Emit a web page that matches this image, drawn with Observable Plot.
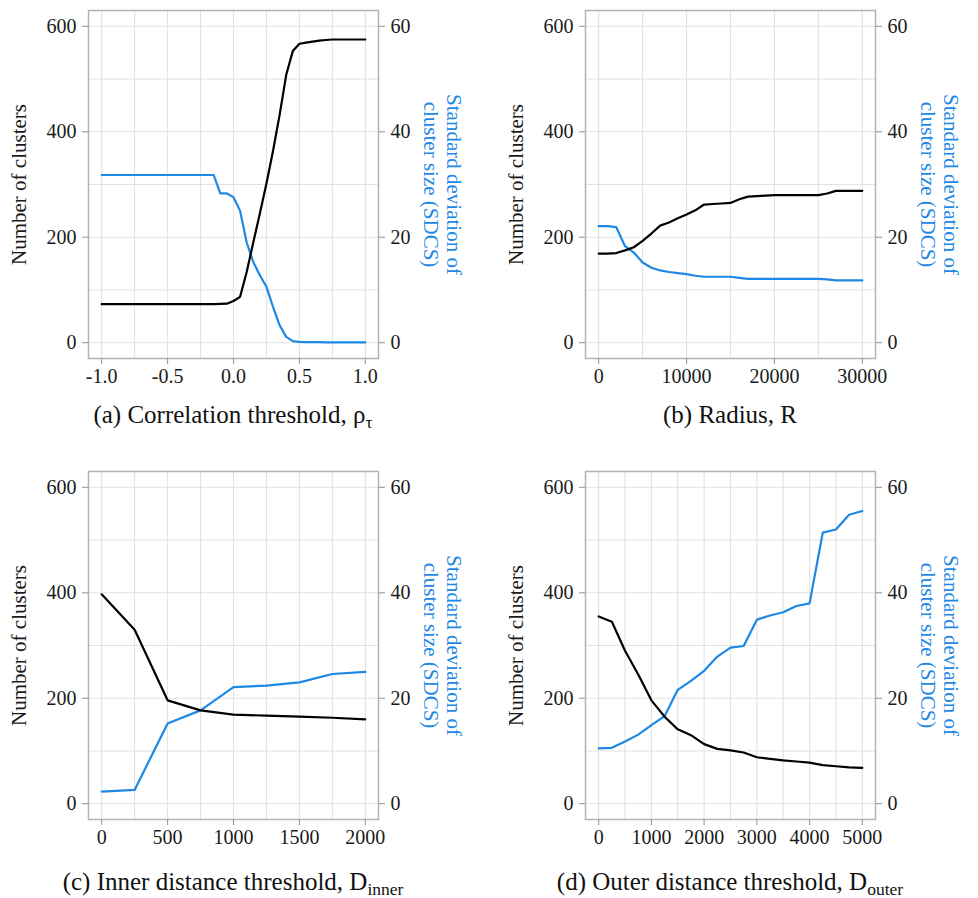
<!DOCTYPE html>
<html>
<head>
<meta charset="utf-8">
<script src="https://cdn.jsdelivr.net/npm/d3@7"></script>
<script src="https://cdn.jsdelivr.net/npm/@observablehq/plot@0.6"></script>
<style>
  html, body { margin: 0; padding: 0; background: #fff; overflow: hidden; }
  #fig { position: relative; width: 978px; height: 898px; font-family: "Liberation Serif", Tinos, Times, "DejaVu Serif", serif; }
  .panel { position: absolute; }
  .cap { position: absolute; width: 440px; text-align: center; white-space: nowrap;
         font-size: 25px; line-height: 26px; color: #111; }
  .cap sub { font-size: 0.7em; vertical-align: -0.3em; line-height: 0; }
</style>
</head>
<body>
<div id="fig"></div>
<script>
// (a) correlation threshold sweep
const rhoX = [-1.0, -0.95, -0.9, -0.85, -0.8, -0.75, -0.7, -0.65, -0.6, -0.55, -0.5, -0.45, -0.4, -0.35, -0.3, -0.25, -0.2, -0.15,
              -0.1, -0.05, 0.0, 0.05, 0.1, 0.15, 0.2, 0.25, 0.3, 0.35, 0.4, 0.45, 0.5, 0.55, 0.6, 0.65, 0.7, 0.75, 0.8, 0.85, 0.9, 0.95, 1.0];
const rhoCount = [73, 73, 73, 73, 73, 73, 73, 73, 73, 73, 73, 73, 73, 73, 73, 73, 73, 73,
                  73.5, 74, 79, 87, 134, 190, 245, 302, 364, 432, 508, 553, 567, 569, 571, 573, 574, 575, 575, 575, 575, 575, 575];
const rhoSdcs = [31.8, 31.8, 31.8, 31.8, 31.8, 31.8, 31.8, 31.8, 31.8, 31.8, 31.8, 31.8, 31.8, 31.8, 31.8, 31.8, 31.8, 31.8,
                 28.3, 28.3, 27.6, 25.0, 19.0, 15.3, 12.8, 10.6, 6.8, 3.3, 1.1, 0.3, 0.15, 0.1, 0.1, 0.1, 0.05, 0.05, 0.05, 0.05, 0.05, 0.05, 0.05];

// (b) radius sweep
const radiusX = [0, 1000, 2000, 3000, 4000, 5000, 6000, 7000, 8000, 9000, 10000, 11000, 12000, 13000, 14000, 15000,
                 16000, 17000, 18000, 19000, 20000, 21000, 22000, 23000, 24000, 25000, 26000, 27000, 28000, 29000, 30000];
const radiusCount = [169, 169, 170, 175, 181, 193, 207, 222, 228, 236, 243, 251, 262, 263, 264, 265,
                     272, 277, 278, 279, 280, 280, 280, 280, 280, 280, 283, 288, 288, 288, 288];
const radiusSdcs = [22.1, 22.1, 21.9, 18.3, 17.1, 15.2, 14.2, 13.7, 13.4, 13.2, 13.0, 12.7, 12.5, 12.5, 12.5, 12.5,
                    12.3, 12.1, 12.1, 12.1, 12.1, 12.1, 12.1, 12.1, 12.1, 12.1, 12.0, 11.8, 11.8, 11.8, 11.8];

// (c) inner distance threshold sweep
const innerX = [0, 250, 500, 750, 1000, 1250, 1500, 1750, 2000];
const innerCount = [397, 330, 196, 177, 169, 167, 165, 163, 160];
const innerSdcs = [2.3, 2.6, 15.2, 17.7, 22.1, 22.4, 23.0, 24.6, 25.0];

// (d) outer distance threshold sweep
const outerX = [0, 250, 500, 750, 1000, 1250, 1500, 1750, 2000, 2250, 2500, 2750, 3000, 3250, 3500, 3750, 4000, 4250, 4500, 4750, 5000];
const outerCount = [355, 345, 290, 245, 196, 165, 141, 130, 113, 104, 101, 97, 88, 85, 82, 80, 78, 73, 71, 69, 68];
const outerSdcs = [10.5, 10.6, 11.8, 13.1, 14.9, 16.6, 21.6, 23.3, 25.2, 27.9, 29.6, 29.9, 34.9, 35.7, 36.3, 37.5, 38.0, 51.4, 52.0, 54.8, 55.5];

// shared axis ticks
const countTicks = [0, 200, 400, 600];
const countGrid = [0, 100, 200, 300, 400, 500, 600];
const sdcsScale = 10; // SDCS is drawn on the count scale, 60 ↔ 600

const BLUE = "#1e88e5";
const INK = "#1a1a1a";
const FONT = "'Liberation Serif', Tinos, Times, 'DejaVu Serif', serif";

function panel({xs, counts, sdcs, xDomain, xTicks, xGrid, xFormat}) {
  const rows = xs.map((x, i) => ({x, count: counts[i], sdcs: sdcs[i]}));
  const tick = {stroke: "#9a9a9a", strokeWidth: 1.1, tickSize: 6, fill: INK, fontSize: 20};
  return Plot.plot({
    width: 481,
    height: 398,
    marginLeft: 88,
    marginRight: 103,
    marginTop: 10,
    marginBottom: 40,
    style: {fontFamily: FONT, fontSize: "20px", background: "transparent", overflow: "visible"},
    x: {domain: xDomain},
    y: {domain: [-30, 630]},
    marks: [
      Plot.gridY(countGrid, {stroke: "#e2e2e2", strokeOpacity: 1, strokeWidth: 1.1}),
      Plot.gridX(xGrid, {stroke: "#e2e2e2", strokeOpacity: 1, strokeWidth: 1.1}),
      Plot.frame({stroke: "#b3b3b3", strokeWidth: 1.5}),
      Plot.axisY(countTicks, {anchor: "left", tickPadding: 6, label: null, ...tick}),
      Plot.axisY(countTicks, {anchor: "right", tickPadding: 6, label: null, tickFormat: d => d / sdcsScale, ...tick}),
      Plot.axisX(xTicks, {anchor: "bottom", tickPadding: 4, label: null, tickFormat: xFormat, ...tick}),
      Plot.line(rows, {x: "x", y: d => d.sdcs * sdcsScale, stroke: BLUE, strokeWidth: 2.2}),
      Plot.line(rows, {x: "x", y: "count", stroke: "#000", strokeWidth: 2.2}),
      Plot.text(["Number of clusters"], {frameAnchor: "left", rotate: -90, dx: -69,
        textAnchor: "middle", lineAnchor: "middle", fontSize: 21, fill: INK}),
      Plot.text(["Standard deviation of\ncluster size (SDCS)"], {frameAnchor: "right", rotate: 90, dx: 64,
        textAnchor: "middle", lineAnchor: "middle", lineHeight: 1.1, fontSize: 21, fill: BLUE})
    ]
  });
}

const panels = [
  {left: 0, top: 0, capTop: 402, caption: "(a) Correlation threshold, ρ<sub>τ</sub>",
   opts: {xs: rhoX, counts: rhoCount, sdcs: rhoSdcs, xDomain: [-1.1, 1.1],
          xTicks: [-1, -0.5, 0, 0.5, 1], xGrid: [-1, -0.75, -0.5, -0.25, 0, 0.25, 0.5, 0.75, 1], xFormat: d => d.toFixed(1)}},
  {left: 497, top: 0, capTop: 402, caption: "(b) Radius, R",
   opts: {xs: radiusX, counts: radiusCount, sdcs: radiusSdcs, xDomain: [-1500, 31500],
          xTicks: [0, 10000, 20000, 30000], xGrid: [0, 5000, 10000, 15000, 20000, 25000, 30000], xFormat: d => String(d)}},
  {left: 0, top: 461, capTop: 869, caption: "(c) Inner distance threshold, D<sub>inner</sub>",
   opts: {xs: innerX, counts: innerCount, sdcs: innerSdcs, xDomain: [-100, 2100],
          xTicks: [0, 500, 1000, 1500, 2000], xGrid: [0, 250, 500, 750, 1000, 1250, 1500, 1750, 2000], xFormat: d => String(d)}},
  {left: 497, top: 461, capTop: 869, caption: "(d) Outer distance threshold, D<sub>outer</sub>",
   opts: {xs: outerX, counts: outerCount, sdcs: outerSdcs, xDomain: [-250, 5250],
          xTicks: [0, 1000, 2000, 3000, 4000, 5000], xGrid: [0, 500, 1000, 1500, 2000, 2500, 3000, 3500, 4000, 4500, 5000], xFormat: d => String(d)}}
];

const fig = document.getElementById("fig");
for (const p of panels) {
  const holder = document.createElement("div");
  holder.className = "panel";
  holder.style.left = p.left + "px";
  holder.style.top = p.top + "px";
  holder.appendChild(panel(p.opts));
  fig.appendChild(holder);

  // caption centred under the plotting frame
  const cap = document.createElement("div");
  cap.className = "cap";
  const frameCenter = p.left + 88 + 145;
  cap.style.left = (frameCenter - 220) + "px";
  cap.style.top = p.capTop + "px";
  cap.innerHTML = p.caption;
  fig.appendChild(cap);
}
</script>
</body>
</html>
